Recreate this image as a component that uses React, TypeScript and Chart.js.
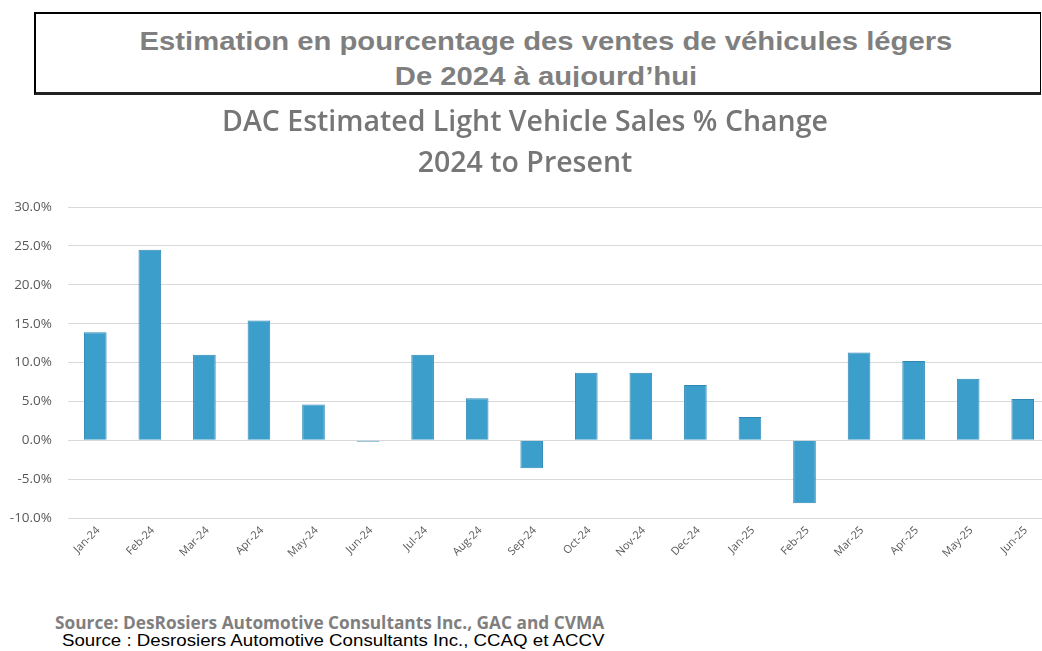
import React, { useEffect, useRef } from 'react';
import { Chart, registerables } from 'chart.js';
Chart.register(...registerables);

const categories = ['Jan-24', 'Feb-24', 'Mar-24', 'Apr-24', 'May-24', 'Jun-24', 'Jul-24', 'Aug-24', 'Sep-24', 'Oct-24', 'Nov-24', 'Dec-24', 'Jan-25', 'Feb-25', 'Mar-25', 'Apr-25', 'May-25', 'Jun-25'];
const salesChange = [13.9, 24.5, 11.0, 15.4, 4.6, -0.2, 11.0, 5.4, -3.6, 8.7, 8.7, 7.1, 3.0, -8.1, 11.3, 10.2, 7.9, 5.3];
const yMin = -10;
const yMax = 30;
const yStep = 5;
const chartTitle = ['DAC Estimated Light Vehicle Sales % Change', '2024 to Present'];
const headerLines = ['Estimation en pourcentage des ventes de véhicules légers', 'De 2024 à aujourd’hui'];
const sourceEn = 'Source:  DesRosiers Automotive Consultants Inc., GAC and CVMA';
const sourceFr = 'Source : Desrosiers Automotive Consultants Inc., CCAQ et ACCV';

export default function App() {
  const ref = useRef<HTMLCanvasElement>(null);
  useEffect(() => {
    const chart = new Chart(ref.current!, {
      type: 'bar',
      data: {
        labels: categories,
        datasets: [{
          data: salesChange,
          backgroundColor: '#3c9ecb',
          borderColor: '#2e88b6',
          borderWidth: 1,
          barPercentage: 0.415,
          categoryPercentage: 1,
        }],
      },
      options: {
        animation: false,
        responsive: false,
        devicePixelRatio: 1,
        layout: { padding: { left: 0, right: 2, top: 0, bottom: 0 } },
        plugins: {
          legend: { display: false },
          tooltip: { enabled: false },
          title: {
            display: true,
            text: chartTitle,
            color: '#767676',
            font: { family: 'Open Sans', size: 28.5, weight: '600', lineHeight: 1.44 },
            padding: { top: 2, bottom: 23 },
          },
        },
        scales: {
          x: {
            grid: { display: false, drawTicks: false },
            border: { display: false },
            ticks: {
              minRotation: 45,
              maxRotation: 45,
              autoSkip: false,
              color: '#595959',
              font: { family: 'Open Sans', size: 11 },
              padding: 6,
              labelOffset: 3,
            },
            afterFit: (s: any) => { s.height = 62; },
          },
          y: {
            min: yMin,
            max: yMax,
            ticks: {
              stepSize: yStep,
              callback: (v: any) => Number(v).toFixed(1) + '%',
              color: '#595959',
              font: { family: 'Open Sans', size: 13.5 },
              padding: 16,
            },
            grid: { color: '#d9d9d9', drawTicks: false },
            border: { display: false },
            afterFit: (s: any) => { s.width = 68; },
          },
        },
      },
    });
    return () => chart.destroy();
  }, []);

  return (
    <div style={{ position: 'fixed', left: 0, top: 0, width: 1042, height: 651, overflow: 'hidden', background: '#fff' }}>
      <div style={{ position: 'absolute', left: 34, top: 12, width: 1007, height: 83, boxSizing: 'border-box', borderTop: '2px solid #000', borderLeft: '2px solid #000', borderRight: '1px solid #000', borderBottom: '3px solid #222' }} />
      <div style={{ position: 'absolute', left: 0, top: 24, width: 1092, height: 63, overflow: 'hidden', textAlign: 'center', fontFamily: '"Liberation Sans", Arial, sans-serif', fontWeight: 700, fontSize: 25, lineHeight: '35px', color: '#7f7f7f', transform: 'scaleX(1.17)', transformOrigin: '546px 0' }}>
        <div>{headerLines[0]}</div>
        <div>{headerLines[1]}</div>
      </div>
      <canvas ref={ref} width={1052} height={480} style={{ position: 'absolute', left: 0, top: 100, width: 1052, height: 480, display: 'block' }} />
      <div style={{ position: 'absolute', left: 55, top: 613, whiteSpace: 'nowrap', fontFamily: '"Open Sans", sans-serif', fontWeight: 700, fontSize: 17.3, lineHeight: '20px', color: '#7f7f7f' }}>{sourceEn}</div>
      <div style={{ position: 'absolute', left: 62, top: 632, whiteSpace: 'nowrap', fontFamily: '"Liberation Sans", Arial, sans-serif', fontSize: 17, lineHeight: '18px', color: '#000', transform: 'scaleX(1.1)', transformOrigin: '0 0' }}>{sourceFr}</div>
    </div>
  );
}
